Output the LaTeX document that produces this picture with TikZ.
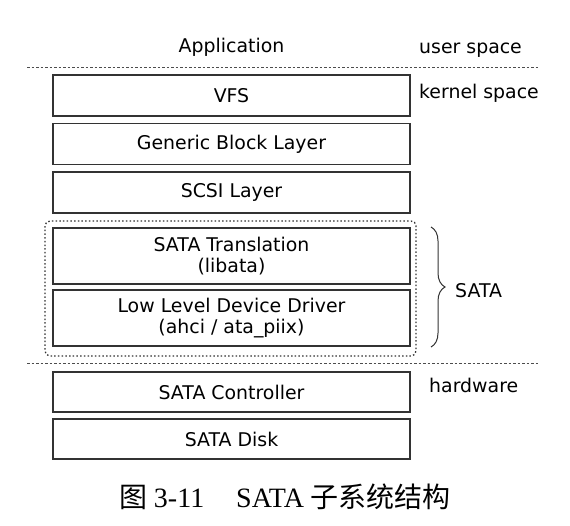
\documentclass[tikz,border=0pt]{standalone}
\usepackage{fontspec}
\setmainfont{DejaVu Sans}
\newfontfamily\cjk{Noto Sans CJK SC}
\newfontfamily\capserif{Liberation Serif}
\usetikzlibrary{decorations.pathreplacing}
\begin{document}
\begin{tikzpicture}[x=1pt,y=-1pt,
  layer/.style={draw=black!80, line width=1.2pt, minimum width=357pt, inner sep=0pt, align=center, font=\fontsize{18.9}{21.5}\selectfont},
  lbl/.style={anchor=base west, inner sep=0pt, font=\fontsize{18.9}{21.5}\selectfont},
  sep/.style={draw=black!70, line width=0.9pt, dash pattern=on 2.5pt off 2pt},
  grp/.style={draw=black!80, line width=1.3pt, dash pattern=on 1.5pt off 2.2pt, rounded corners=5pt},
  bracestyle/.style={draw=black!80, line width=1pt, decorate, decoration={brace, amplitude=14pt, aspect=0.5}}]
\useasboundingbox (0,0) rectangle (570,525);
\fill[white] (0,0) rectangle (570,525);

% top labels
\node[anchor=base, inner sep=0pt, font=\fontsize{18.9}{21.5}\selectfont] (app) at (231.5,52) {Application};
\node[lbl] (user) at (419,53) {user space};
\node[lbl] (kernel) at (419,98) {kernel space};
\node[lbl] (hw) at (429,392) {hardware};
\node[lbl] (sata) at (455,297) {SATA};

% separators
\coordinate (s1a) at (27,67);
\coordinate (s1b) at (538,67);
\coordinate (s2a) at (27,363.5);
\coordinate (s2b) at (538,363.5);
\draw[sep] (s1a) -- (s1b);
\draw[sep] (s2a) -- (s2b);

% layers
\node[layer, minimum height=41pt] (vfs) at (231.5,95.5) {VFS};
\node[layer, minimum height=41pt] (gbl) at (231.5,144) {Generic Block Layer};
\node[layer, minimum height=41pt] (scsi) at (231.5,192.5) {SCSI Layer};
\node[layer, minimum height=56pt] (trans) at (231.5,256) {SATA Translation\\(libata)};
\node[layer, minimum height=56pt] (lld) at (231.5,318) {Low Level Device Driver\\(ahci / ata\_piix)};
\node[layer, minimum height=40pt] (ctrl) at (231.5,392) {SATA Controller};
\node[layer, minimum height=40pt] (disk) at (231.5,439) {SATA Disk};

% SATA group
\coordinate (g1) at (45,221);
\coordinate (g2) at (416,356);
\draw[grp] (g1) rectangle (g2);

% brace
\coordinate (b1) at (431,227);
\coordinate (b2) at (431,347);
\draw[bracestyle] (b1) -- (b2);

% caption
\node[anchor=base, inner sep=0pt] (cap) at (285,507) {\fontsize{28}{31}\selectfont{\cjk 图}\hspace{6pt}{\capserif 3-11}\hspace{32pt}{\capserif SATA}\hspace{6pt}{\cjk 子系统结构}};
\end{tikzpicture}
\end{document}
